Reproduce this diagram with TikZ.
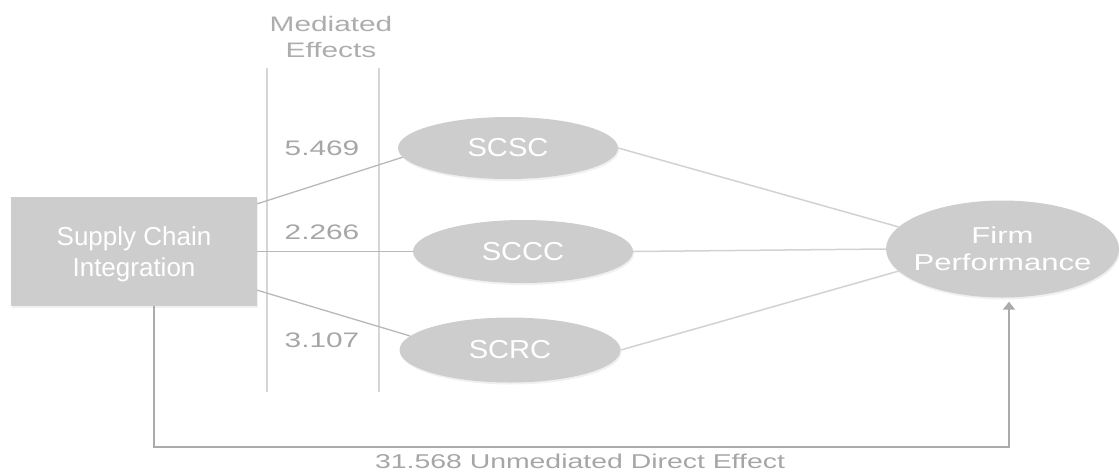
\documentclass[tikz,border=0pt]{standalone}
\usepackage{fontspec}
\setmainfont{Liberation Sans}
\newfontfamily\stretchA[FakeStretch=1.12]{Liberation Sans}
\newfontfamily\stretchB[FakeStretch=1.35]{Liberation Sans}
\newfontfamily\stretchC[FakeStretch=1.42]{Liberation Sans}
\usetikzlibrary{shapes.geometric,arrows.meta,calc,shadows}
\definecolor{nodegray}{HTML}{CDCDCD}
\definecolor{numgray}{HTML}{A6A6A6}
\definecolor{headgray}{HTML}{ADADAD}
\definecolor{linkgray}{HTML}{B8B8B8}
\definecolor{linkrgray}{HTML}{D2D2D2}
\definecolor{divgray}{HTML}{D6D6D6}
\definecolor{directgray}{HTML}{ABABAB}
\tikzset{
  softshadow/.style={drop shadow={opacity=0.12, shadow xshift=1pt, shadow yshift=-2pt}},
  sibox/.style={rectangle, fill=nodegray, text=white, minimum width=246pt, minimum height=109pt,
    inner sep=0pt, align=center, font=\fontsize{26}{31}\selectfont, softshadow},
  sitext/.style={text=white, inner sep=0pt, align=center, font=\fontsize{26}{31}\selectfont},
  oval/.style={ellipse, fill=nodegray, text=white, inner sep=0pt,
    font=\stretchA\fontsize{26}{30}\selectfont, softshadow},
  fptext/.style={text=white, inner sep=0pt, align=center, font=\stretchB\fontsize{23}{27}\selectfont},
  numlabel/.style={text=numgray, inner sep=0pt, font=\stretchC\fontsize{21}{25}\selectfont},
  headlabel/.style={text=headgray, inner sep=0pt, align=center, font=\stretchC\fontsize{21}{26}\selectfont},
  bottomlabel/.style={text=numgray, inner sep=0pt, font=\stretchC\fontsize{20}{24}\selectfont},
  divider/.style={draw=divgray, line width=1.5pt},
  link/.style={draw=linkgray, line width=1.3pt},
  linkr/.style={draw=linkrgray, line width=1.5pt},
  direct/.style={draw=directgray, line width=2pt, -{Triangle[width=12pt,length=8pt]}},
}
\begin{document}
\begin{tikzpicture}[x=1pt,y=-1pt]
\useasboundingbox (0,0) rectangle (1119,472);

% divider lines of the mediated-effects column
\coordinate (v1t) at (267,68);
\coordinate (v1b) at (267,392);
\coordinate (v2t) at (379,68);
\coordinate (v2b) at (379,392);
\draw[divider] (v1t) -- (v1b);
\draw[divider] (v2t) -- (v2b);

\node[headlabel, anchor=north] (head) at (331,16.5) {Mediated\\Effects};

% nodes
\node[sibox, label={[sitext, yshift=-3pt]center:{Supply Chain\\Integration}}] (sci) at (134,251.5) {};
\node[oval, minimum width=220pt, minimum height=62pt] (scsc) at (508,148) {SCSC};
\node[oval, minimum width=220pt, minimum height=63pt] (sccc) at (523,251.5) {SCCC};
\node[oval, minimum width=221pt, minimum height=65pt] (scrc) at (510,350) {SCRC};
\node[oval, minimum width=233pt, minimum height=97pt,
      label={[fptext]center:{Firm\\Performance}}] (fp) at (1002.5,249) {};

% effect values
\node[numlabel] (n1) at (322,148) {5.469};
\node[numlabel] (n2) at (322,232) {2.266};
\node[numlabel] (n3) at (322,340) {3.107};

% connectors
\draw[link] ($(sci.north east)+(0,7)$) -- (scsc.185);
\draw[link] (sci.east) -- (sccc.west);
\draw[link] ($(sci.south east)+(0,-16)$) -- (scrc.172);
\draw[linkr] (scsc.east) -- (fp.168);
\draw[linkr] (sccc.east) -- (fp.west);
\draw[linkr] (scrc.east) -- (fp.192);

\coordinate (turn) at (1009,447);
\draw[direct, shorten >=4pt] ($(sci.south)+(20,0)$) |- (turn) -- (turn |- fp.south);

\node[bottomlabel] (direct label) at (580,461) {31.568 Unmediated Direct Effect};
\end{tikzpicture}
\end{document}
